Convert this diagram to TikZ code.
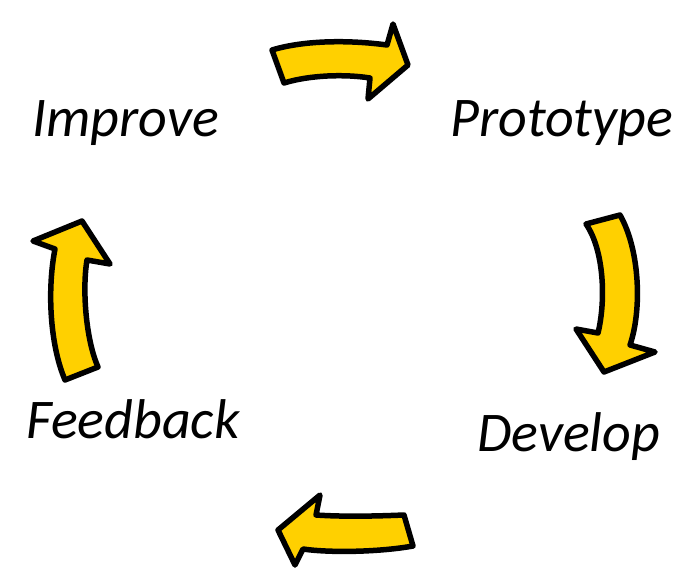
\documentclass[tikz,border=0pt]{standalone}
\usepackage{fontspec}
\setmainfont{Carlito}
\definecolor{arrowyellow}{RGB}{255,208,0}
\begin{document}
\begin{tikzpicture}[x=1pt,y=-1pt,
  blockarrow/.style={fill=arrowyellow,draw=black,line width=5.5pt,line join=round},
  label/.style={anchor=base west,inner sep=0pt,font=\fontsize{56}{62}\selectfont\itshape}]
\useasboundingbox (0,0) rectangle (685,573);
% labels
\node[label] (improve) at (32,136) {Improve};
\node[label] (prototype) at (450,136) {Prototype};
\node[label] (feedback) at (26,438) {Feedback};
\node[label] (develop) at (477,451) {Develop};
% top arrow
\draw[blockarrow] (272,50) -- (284,83) .. controls (310,75) and (345,74) .. (370,78)
  -- (368,99) -- (408,65) -- (393,24) -- (387,45)
  .. controls (350,40) and (305,40) .. (272,50) -- cycle;
% right arrow
\draw[blockarrow] (586,224) -- (620,215) .. controls (640,250) and (642,310) .. (630,345)
  -- (655,352) -- (604,372) -- (576,329) -- (598,333)
  .. controls (606,300) and (604,250) .. (586,224) -- cycle;
% bottom arrow
\draw[blockarrow] (404,515) -- (413,546) .. controls (380,552) and (330,553) .. (303,549)
  -- (295,565) -- (278,530) -- (320,495) -- (316,515)
  .. controls (345,517) and (380,516) .. (404,515) -- cycle;
% left arrow
\draw[blockarrow] (65,380) -- (98,367) .. controls (86,340) and (82,290) .. (87,260)
  -- (110,264) -- (82,221) -- (33,241) -- (55,249)
  .. controls (47,290) and (50,345) .. (65,380) -- cycle;
\end{tikzpicture}
\end{document}
